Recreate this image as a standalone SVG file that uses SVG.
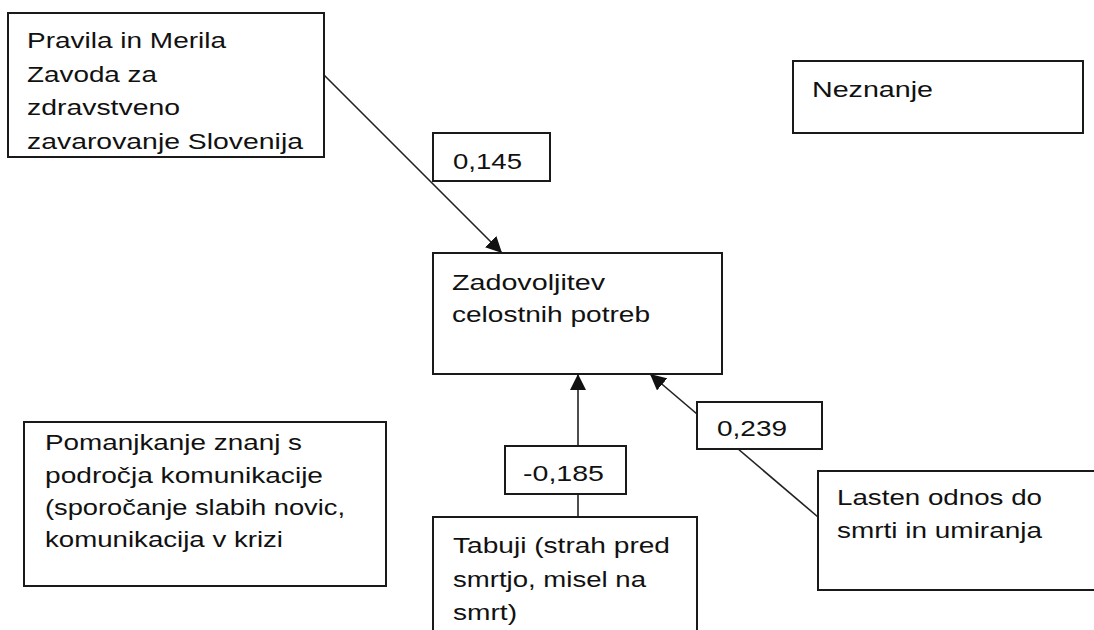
<svg xmlns="http://www.w3.org/2000/svg" width="1094" height="630" viewBox="0 0 1094 630">
  <style>
    .box { fill: #ffffff; stroke: #1a1a1a; stroke-width: 2; }
    .lbl { fill: #ffffff; stroke: #1a1a1a; stroke-width: 2; }
    .edge { fill: none; stroke: #222222; stroke-width: 1.6; }
    text { font-family: "Liberation Sans", Arial, sans-serif; font-size: 22px; fill: #111111; }
  </style>
  <defs>
    <marker id="arrow" viewBox="0 0 10 10" refX="10" refY="5" markerUnits="userSpaceOnUse" markerWidth="16" markerHeight="16" orient="auto">
      <path d="M0,0 L10,5 L0,10 z" fill="#111111"/>
    </marker>
  </defs>

  <rect width="1094" height="630" fill="#ffffff"/>

  <!-- connectors (drawn first so the coefficient labels sit over them) -->
  <g id="connectors">
    <line class="edge" x1="324" y1="75" x2="502" y2="253" marker-end="url(#arrow)"/>
    <line class="edge" x1="578" y1="517" x2="578" y2="374" marker-end="url(#arrow)"/>
    <line class="edge" x1="818" y1="517" x2="650" y2="374" marker-end="url(#arrow)"/>
  </g>

  <g id="node-pravila">
    <rect class="box" x="8" y="13" width="316" height="144"/>
    <text x="27" y="48" textLength="199" lengthAdjust="spacingAndGlyphs">Pravila in Merila</text>
    <text x="27" y="82" textLength="130" lengthAdjust="spacingAndGlyphs">Zavoda za</text>
    <text x="27" y="115" textLength="153" lengthAdjust="spacingAndGlyphs">zdravstveno</text>
    <text x="27" y="149" textLength="276" lengthAdjust="spacingAndGlyphs">zavarovanje Slovenija</text>
  </g>

  <g id="node-neznanje">
    <rect class="box" x="793" y="61" width="290" height="72"/>
    <text x="812" y="97" textLength="121" lengthAdjust="spacingAndGlyphs">Neznanje</text>
  </g>

  <g id="node-zadovoljitev">
    <rect class="box" x="433" y="253" width="289" height="121"/>
    <text x="452" y="290" textLength="153" lengthAdjust="spacingAndGlyphs">Zadovoljitev</text>
    <text x="452" y="322" textLength="198" lengthAdjust="spacingAndGlyphs">celostnih potreb</text>
  </g>

  <g id="node-pomanjkanje">
    <rect class="box" x="24" y="422" width="362" height="164"/>
    <text x="45" y="450" textLength="257" lengthAdjust="spacingAndGlyphs">Pomanjkanje znanj s</text>
    <text x="45" y="483" textLength="278" lengthAdjust="spacingAndGlyphs">področja komunikacije</text>
    <text x="45" y="515" textLength="300" lengthAdjust="spacingAndGlyphs">(sporočanje slabih novic,</text>
    <text x="45" y="547" textLength="238" lengthAdjust="spacingAndGlyphs">komunikacija v krizi</text>
  </g>

  <g id="node-tabuji">
    <rect class="box" x="433" y="517" width="264" height="130"/>
    <text x="453" y="553" textLength="217" lengthAdjust="spacingAndGlyphs">Tabuji (strah pred</text>
    <text x="453" y="587" textLength="193" lengthAdjust="spacingAndGlyphs">smrtjo, misel na</text>
    <text x="453" y="620" textLength="64" lengthAdjust="spacingAndGlyphs">smrt)</text>
  </g>

  <g id="node-lasten">
    <rect class="box" x="818" y="471" width="290" height="119"/>
    <text x="837" y="505" textLength="205" lengthAdjust="spacingAndGlyphs">Lasten odnos do</text>
    <text x="837" y="538" textLength="205" lengthAdjust="spacingAndGlyphs">smrti in umiranja</text>
  </g>

  <!-- path coefficients -->
  <g id="label-0145">
    <rect class="lbl" x="433" y="133" width="117" height="48"/>
    <text x="453" y="169" textLength="69" lengthAdjust="spacingAndGlyphs">0,145</text>
  </g>
  <g id="label-0185">
    <rect class="lbl" x="505" y="446" width="121" height="48"/>
    <text x="523" y="481" textLength="81" lengthAdjust="spacingAndGlyphs">-0,185</text>
  </g>
  <g id="label-0239">
    <rect class="lbl" x="697" y="402" width="125" height="47"/>
    <text x="717" y="436" textLength="70" lengthAdjust="spacingAndGlyphs">0,239</text>
  </g>
</svg>
